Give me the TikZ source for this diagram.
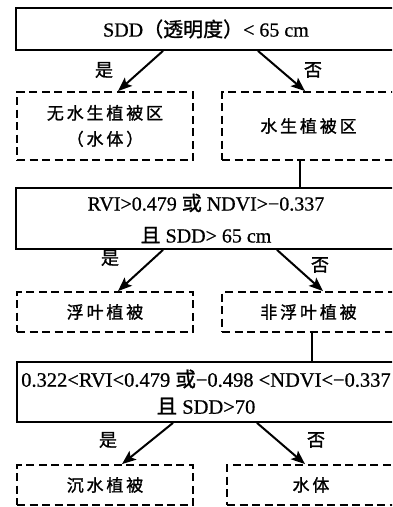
\documentclass[tikz,border=0pt]{standalone}
\usepackage{fontspec}
\setmainfont[FakeBold=0.7]{Liberation Serif}
\newfontfamily\cjk[FakeBold=1.2]{Noto Sans CJK SC}
\usetikzlibrary{arrows.meta,calc}
\begin{document}
\begin{tikzpicture}[x=1pt,y=-1pt,
  solidbox/.style={draw,line width=1.8pt,minimum width=380pt,inner sep=0pt,align=center},
  dashbox/.style={draw,line width=1.8pt,dash pattern=on 8pt off 4.5pt,inner sep=0pt,align=center,
    font=\cjk\fontsize{17}{26}\selectfont},
  arr/.style={line width=2pt,-{Stealth[length=14pt,width=11pt,inset=3pt]}},
  link/.style={line width=2pt},
  yn/.style={font=\cjk\fontsize{18}{18}\selectfont,inner sep=0pt}]
\useasboundingbox (0,0) rectangle (392,507);
\clip (0,0) rectangle (392,507);
\fill[white] (0,0) rectangle (392,507);

% row 1
\node[solidbox,minimum height=42pt,font=\fontsize{20}{24}\selectfont] (b1) at (206,29)
  {SDD{\cjk（透明度）}< 65 cm};
\node[dashbox,minimum width=176pt,minimum height=68pt] (d1) at (105,126)
  {无\,水\,生\,植\,被\,区\\（\,水\,体\,）};
\node[dashbox,minimum width=173pt,minimum height=68pt] (d2) at (308.5,126)
  {水\,生\,植\,被\,区};
\draw[arr] ([xshift=-43pt]b1.south) -- ([xshift=13pt]d1.north);
\draw[arr] ([xshift=52pt]b1.south) -- ([xshift=-3.5pt]d2.north);
\node[yn] (y1) at (104,70) {是};
\node[yn] (n1) at (313,70) {否};

% row 2
\node[solidbox,minimum height=61pt,font=\fontsize{20}{32}\selectfont] (b2) at (206,218.5)
  {RVI>0.479 {\cjk 或} NDVI>−0.337\\{\cjk 且} SDD> 65 cm};
\draw[link] ([xshift=-8.5pt]d2.south) coordinate (t1) -- (t1 |- b2.north);
\node[dashbox,minimum width=176pt,minimum height=40pt] (d3) at (105,312)
  {浮\,叶\,植\,被};
\node[dashbox,minimum width=173pt,minimum height=40pt] (d4) at (308.5,312)
  {非\,浮\,叶\,植\,被};
\draw[arr] ([xshift=-43pt]b2.south) -- ([xshift=13pt]d3.north);
\draw[arr] ([xshift=71pt]b2.south) -- ([xshift=14.5pt]d4.north);
\node[yn] (y2) at (110,258) {是};
\node[yn] (n2) at (320,265) {否};

% row 3
\node[solidbox,minimum width=378pt,minimum height=60pt,font=\fontsize{20.5}{27}\selectfont] (b3) at (206,392)
  {0.322<RVI<0.479 {\cjk 或}−0.498 <NDVI<−0.337\\{\cjk 且} SDD>70};
\draw[link] ([xshift=3.5pt]d4.south) coordinate (t2) -- (t2 |- b3.north);
\node[dashbox,minimum width=176pt,minimum height=40pt] (d5) at (105,485)
  {沉\,水\,植\,被};
\node[dashbox,minimum width=168pt,minimum height=40pt] (d6) at (311,485)
  {水\,体};
\draw[arr] ([xshift=-33pt]b3.south) -- ([xshift=17pt]d5.north);
\draw[arr] ([xshift=51pt]b3.south) -- ([xshift=-6pt]d6.north);
\node[yn] (y3) at (108,440) {是};
\node[yn] (n3) at (316,440) {否};
\end{tikzpicture}
\end{document}
